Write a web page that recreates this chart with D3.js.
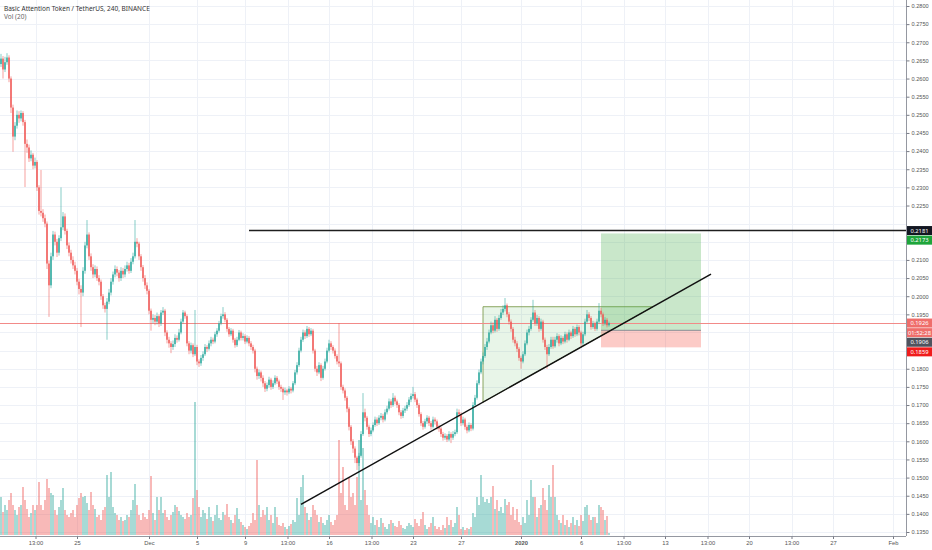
<!DOCTYPE html>
<html>
<head>
<meta charset="utf-8">
<script src="https://cdn.jsdelivr.net/npm/d3@7"></script>
<style>
  html, body { margin: 0; padding: 0; background: #fff; }
  svg { display: block; font-family: "Noto Sans", "DejaVu Sans", sans-serif; }
</style>
</head>
<body>
<svg id="chart" width="932" height="550"></svg>
<script>
// BAT/USDT 4h candles, Nov 18 16:00 -> Jan 8 08:00
const firstTime = "2019-11-18T16:00Z";
const firstOpen = 0.2640;

const closes = [
  .2655,.2625,.2645,.2658,.2600,.2520,.2440,.2470,.2500,.2490,
  .2505,.2480,.2420,.2410,.2380,.2390,.2360,.2370,.2300,.2235,
  .2230,.2215,.2200,.2090,.2030,.2110,.2170,.2150,.2120,.2160,
  .2190,.2220,.2180,.2140,.2120,.2100,.2085,.2070,.2040,.2020,
  .2010,.2070,.2140,.2170,.2110,.2080,.2060,.2075,.2050,.2040,
  .2000,.1975,.1965,.1985,.2010,.2040,.2060,.2075,.2065,.2050,
  .2070,.2060,.2075,.2085,.2070,.2095,.2110,.2150,.2145,.2110,
  .2080,.2050,.2030,.2015,.1960,.1935,.1940,.1930,.1945,.1925,
  .1955,.1960,.1900,.1880,.1870,.1860,.1868,.1885,.1880,.1900,
  .1930,.1955,.1945,.1870,.1850,.1865,.1840,.1860,.1820,.1815,
  .1830,.1840,.1860,.1855,.1870,.1880,.1875,.1895,.1905,.1925,
  .1945,.1950,.1935,.1910,.1895,.1905,.1880,.1865,.1880,.1900,
  .1885,.1890,.1875,.1885,.1870,.1860,.1850,.1800,.1780,.1790,
  .1775,.1760,.1745,.1755,.1770,.1750,.1760,.1775,.1765,.1750,
  .1745,.1735,.1740,.1735,.1745,.1740,.1760,.1790,.1810,.1850,
  .1880,.1900,.1890,.1910,.1895,.1905,.1850,.1800,.1790,.1810,
  .1775,.1800,.1820,.1850,.1870,.1860,.1850,.1835,.1820,.1815,
  .1750,.1740,.1720,.1690,.1640,.1600,.1580,.1555,.1540,.1560,
  .1620,.1680,.1665,.1640,.1620,.1630,.1645,.1660,.1650,.1665,
  .1670,.1660,.1680,.1690,.1710,.1700,.1720,.1710,.1700,.1680,
  .1670,.1685,.1690,.1700,.1715,.1725,.1730,.1715,.1700,.1675,
  .1650,.1640,.1655,.1665,.1650,.1640,.1660,.1655,.1640,.1635,
  .1620,.1610,.1615,.1605,.1620,.1610,.1620,.1625,.1680,.1675,
  .1650,.1660,.1640,.1630,.1645,.1635,.1700,.1720,.1760,.1790,
  .1820,.1835,.1860,.1875,.1900,.1920,.1905,.1935,.1910,.1940,
  .1955,.1965,.1975,.1950,.1930,.1910,.1880,.1870,.1855,.1830,
  .1820,.1840,.1870,.1900,.1910,.1935,.1955,.1925,.1940,.1910,
  .1930,.1880,.1860,.1840,.1860,.1880,.1862,.1880,.1890,.1870,
  .1885,.1875,.1895,.1880,.1900,.1890,.1910,.1895,.1915,.1900,
  .1870,.1895,.1930,.1950,.1940,.1915,.1925,.1910,.1930,.1960,
  .1950,.1925,.1935,.1920,.1926
];

const highs = [
  .2668,.2662,.2660,.2670,.2664,.2606,.2528,.2480,.2512,.2510,
  .2512,.2510,.2486,.2432,.2418,.2402,.2395,.2382,.2375,.2306,
  .2348,.2240,.2225,.2206,.2098,.2120,.2180,.2178,.2158,.2168,
  .2300,.2232,.2228,.2186,.2148,.2128,.2110,.2095,.2078,.2048,
  .2030,.2080,.2150,.2210,.2176,.2118,.2088,.2085,.2082,.2058,
  .2046,.2006,.1982,.1995,.2020,.2050,.2068,.2085,.2082,.2072,
  .2080,.2078,.2085,.2095,.2092,.2105,.2120,.2210,.2160,.2150,
  .2116,.2086,.2058,.2038,.2020,.1966,.1950,.1948,.1955,.1950,
  .1962,.1970,.1965,.1906,.1888,.1876,.1878,.1895,.1892,.1910,
  .1938,.1962,.1960,.1950,.1876,.1872,.1870,.1962,.1866,.1826,
  .1838,.1848,.1868,.1865,.1878,.1888,.1886,.1902,.1912,.1932,
  .1952,.1970,.1956,.1940,.1915,.1912,.1910,.1885,.1888,.1907,
  .1905,.1898,.1895,.1892,.1890,.1876,.1866,.1855,.1806,.1798,
  .1795,.1782,.1766,.1762,.1778,.1775,.1768,.1782,.1780,.1770,
  .1756,.1750,.1748,.1745,.1752,.1750,.1766,.1797,.1818,.1858,
  .1888,.1908,.1906,.1918,.1915,.1912,.1910,.1855,.1808,.1818,
  .1815,.1808,.1828,.1858,.1880,.1876,.1865,.1856,.1840,.1926,
  .1820,.1756,.1746,.1725,.1695,.1645,.1606,.1586,.1560,.1568,
  .1628,.1733,.1690,.1670,.1646,.1638,.1652,.1668,.1666,.1672,
  .1678,.1676,.1688,.1698,.1718,.1716,.1733,.1726,.1715,.1705,
  .1686,.1692,.1698,.1708,.1722,.1732,.1750,.1736,.1720,.1705,
  .1680,.1656,.1662,.1672,.1670,.1656,.1668,.1666,.1660,.1646,
  .1640,.1626,.1622,.1620,.1628,.1625,.1628,.1632,.1690,.1688,
  .1680,.1668,.1665,.1646,.1652,.1650,.1708,.1728,.1768,.1798,
  .1828,.1845,.1868,.1885,.1908,.1930,.1928,.1945,.1940,.1948,
  .1965,.1975,.1995,.1980,.1956,.1936,.1915,.1888,.1876,.1860,
  .1836,.1848,.1878,.1908,.1918,.1942,.1990,.1962,.1948,.1945,
  .1938,.1935,.1886,.1866,.1868,.1888,.1888,.1888,.1898,.1895,
  .1892,.1890,.1902,.1900,.1908,.1905,.1918,.1915,.1922,.1920,
  .1905,.1902,.1938,.1962,.1956,.1945,.1932,.1930,.1938,.1981,
  .1968,.1955,.1942,.1940,.1930
];

const lows = [
  .2632,.2600,.2618,.2638,.2590,.2505,.2398,.2430,.2462,.2478,
  .2482,.2470,.2301,.2395,.2370,.2372,.2350,.2352,.2290,.2225,
  .2220,.2205,.2190,.2075,.1943,.2022,.2100,.2140,.2108,.2112,
  .2152,.2182,.2170,.2130,.2110,.2090,.2075,.2060,.2030,.2005,
  .1915,.2000,.2062,.2132,.2100,.2070,.2050,.2052,.2042,.2030,
  .1990,.1965,.1955,.1880,.1978,.2002,.2032,.2052,.2055,.2040,
  .2042,.2050,.2052,.2068,.2062,.2064,.2088,.2104,.2135,.2100,
  .2070,.2040,.2020,.2005,.1950,.1905,.1925,.1920,.1922,.1915,
  .1918,.1948,.1890,.1870,.1858,.1843,.1852,.1860,.1872,.1875,
  .1895,.1925,.1938,.1862,.1840,.1842,.1832,.1835,.1810,.1805,
  .1808,.1822,.1835,.1846,.1850,.1862,.1868,.1870,.1888,.1900,
  .1920,.1938,.1928,.1902,.1888,.1890,.1872,.1858,.1860,.1876,
  .1878,.1878,.1868,.1870,.1862,.1852,.1842,.1790,.1770,.1772,
  .1765,.1750,.1736,.1738,.1748,.1742,.1744,.1755,.1758,.1742,
  .1736,.1714,.1728,.1726,.1730,.1732,.1735,.1755,.1784,.1805,
  .1845,.1874,.1882,.1885,.1888,.1890,.1842,.1792,.1780,.1785,
  .1766,.1770,.1795,.1815,.1845,.1852,.1842,.1828,.1812,.1805,
  .1742,.1732,.1712,.1680,.1630,.1590,.1568,.1540,.1521,.1532,
  .1555,.1615,.1655,.1632,.1612,.1614,.1625,.1640,.1642,.1645,
  .1658,.1652,.1655,.1674,.1685,.1692,.1695,.1702,.1692,.1672,
  .1662,.1664,.1678,.1684,.1695,.1708,.1718,.1708,.1692,.1668,
  .1642,.1632,.1635,.1648,.1642,.1632,.1635,.1646,.1632,.1626,
  .1612,.1602,.1604,.1598,.1600,.1595,.1604,.1614,.1620,.1666,
  .1642,.1644,.1632,.1622,.1625,.1628,.1630,.1694,.1715,.1755,
  .1785,.1812,.1830,.1852,.1870,.1895,.1898,.1900,.1902,.1905,
  .1935,.1948,.1958,.1942,.1922,.1902,.1872,.1862,.1846,.1822,
  .1800,.1815,.1835,.1865,.1892,.1905,.1930,.1918,.1918,.1902,
  .1905,.1872,.1852,.1800,.1835,.1855,.1855,.1858,.1872,.1862,
  .1865,.1868,.1870,.1872,.1876,.1882,.1885,.1888,.1890,.1892,
  .1862,.1865,.1890,.1925,.1932,.1908,.1910,.1904,.1905,.1925,
  .1942,.1918,.1920,.1914,.1916
];

// volume in thousands of BAT
const volumes = [
  380,230,300,250,350,420,300,250,200,280,
  300,480,350,260,180,220,300,250,300,530,
  300,250,350,560,470,420,400,250,200,280,
  350,470,250,200,180,220,250,180,300,370,
  420,380,390,320,250,430,300,260,180,200,
  150,250,280,600,380,630,280,220,200,150,
  180,140,150,200,180,250,350,510,300,200,
  150,220,180,160,250,590,220,150,380,250,
  380,220,250,180,150,200,230,300,280,240,
  200,180,160,220,180,200,370,1330,450,280,
  180,250,220,160,280,180,140,200,300,170,
  150,230,200,310,180,150,120,200,270,160,
  130,100,80,60,90,120,220,150,750,300,
  180,250,200,280,150,200,120,280,180,100,
  90,120,80,60,90,110,150,130,370,200,
  480,600,280,220,150,180,300,250,200,130,
  180,120,100,150,200,130,100,150,200,950,
  420,680,300,250,580,380,420,300,580,950,
  350,870,450,300,200,120,180,100,150,80,
  170,120,80,60,110,150,120,90,80,140,
  100,70,60,90,120,100,80,160,120,90,
  160,230,100,60,80,120,180,90,60,80,
  50,100,70,180,100,150,80,120,280,200,
  60,80,50,70,60,80,220,180,380,300,
  600,380,330,360,320,380,490,260,350,240,
  280,220,360,300,330,200,280,150,260,130,
  100,180,120,350,200,550,380,380,180,270,
  300,470,350,250,500,380,700,380,200,150,
  120,200,100,150,80,120,180,100,150,90,
  200,140,280,300,200,150,180,180,120,300,
  280,250,150,190,20
];

const timeTicks = [
  "2019-11-21T13:00Z","2019-11-25T00:00Z","2019-12-01T00:00Z","2019-12-05T00:00Z",
  "2019-12-09T00:00Z","2019-12-12T13:00Z","2019-12-16T00:00Z","2019-12-19T13:00Z",
  "2019-12-23T00:00Z","2019-12-27T00:00Z","2020-01-01T00:00Z","2020-01-06T00:00Z",
  "2020-01-09T13:00Z","2020-01-13T00:00Z","2020-01-16T13:00Z","2020-01-20T00:00Z",
  "2020-01-23T13:00Z","2020-01-27T00:00Z","2020-02-01T00:00Z"
];
const timeLabels = ["13:00","25","Dec","5","9","13:00","16","13:00","23","27",
  "2020","6","13:00","13","13:00","20","13:00","27","Feb"];

// drawings
const resistanceStart = "2019-12-09T08:00Z";
const resistancePrice = 0.2181;
const trendStart = ["2019-12-13T16:00Z", 0.1426];
const trendEnd = ["2020-01-16T20:00Z", 0.2061];
const triangleLeft = "2019-12-28T20:00Z";
const triangleTop = 0.1971;
const positionStart = "2020-01-07T16:00Z";
const positionEnd = "2020-01-16T00:00Z";
const entryPrice = 0.1906;
const targetPrice = 0.2173;
const stopPrice = 0.1859;
const lastPrice = 0.1926;
const countdown = "01:52:28";

const upColor = "#26a69a", downColor = "#ef5350";
const W = 932, H = 550, plotRight = 906, axisY = 536;

const svg = d3.select("#chart");

let x = d3.scaleUtc()
  .domain([new Date("2019-12-01T00:00Z"), new Date("2020-02-01T00:00Z")])
  .range([149, 893]);
let y = d3.scaleLinear().domain([0.135, 0.28]).range([532, 6]);
let vScale = d3.scaleLinear().domain([0, 1400]).range([535, 395]);

const t0 = new Date(firstTime).getTime();
let candles = closes.map((c, i) => ({
  t: new Date(t0 + i * 4 * 3600 * 1000),
  o: i === 0 ? firstOpen : closes[i - 1],
  h: highs[i], l: lows[i], c: c, v: volumes[i]
}));

// grid
let priceTicks = d3.range(0.135, 0.28001, 0.005);
let grid = svg.append("g").attr("stroke", "#eef1f7").attr("stroke-width", 1);
grid.selectAll("line.h").data(priceTicks).enter().append("line")
  .attr("x1", 0).attr("x2", plotRight)
  .attr("y1", d => Math.round(y(d)) + 0.5).attr("y2", d => Math.round(y(d)) + 0.5);
grid.selectAll("line.v").data(timeTicks).enter().append("line")
  .attr("y1", 0).attr("y2", axisY)
  .attr("x1", d => Math.round(x(new Date(d))) + 0.5).attr("x2", d => Math.round(x(new Date(d))) + 0.5);

svg.append("clipPath").attr("id", "plot").append("rect")
  .attr("x", 0).attr("y", 0).attr("width", plotRight).attr("height", axisY);
let plot = svg.append("g").attr("clip-path", "url(#plot)");

// volume
plot.append("g").selectAll("rect").data(candles).enter().append("rect")
  .attr("x", d => x(d.t) - 0.8)
  .attr("width", 1.6)
  .attr("y", d => vScale(d.v))
  .attr("height", d => vScale(0) - vScale(d.v))
  .attr("fill", d => d.c >= d.o ? upColor : downColor)
  .attr("fill-opacity", 0.5);

// triangle drawing
let tx1 = x(new Date(trendStart[0])), ty1 = y(trendStart[1]);
let tx2 = x(new Date(trendEnd[0])), ty2 = y(trendEnd[1]);
let slope = (ty2 - ty1) / (tx2 - tx1);
let lx = x(new Date(triangleLeft)), topY = y(triangleTop);
let meetX = tx1 + (topY - ty1) / slope;
plot.append("path")
  .attr("d", `M${lx},${topY}L${meetX},${topY}L${lx},${ty1 + (lx - tx1) * slope}Z`)
  .attr("fill", "rgba(76,175,80,0.13)")
  .attr("stroke", "rgba(120,150,70,0.85)")
  .attr("stroke-width", 1);

// long position tool
let px1 = x(new Date(positionStart)), px2 = x(new Date(positionEnd));
plot.append("rect").attr("x", px1).attr("width", px2 - px1)
  .attr("y", y(targetPrice)).attr("height", y(entryPrice) - y(targetPrice))
  .attr("fill", "rgba(76,175,80,0.3)");
plot.append("rect").attr("x", px1).attr("width", px2 - px1)
  .attr("y", y(entryPrice)).attr("height", y(stopPrice) - y(entryPrice))
  .attr("fill", "rgba(244,67,54,0.28)");
plot.append("line").attr("x1", px1).attr("x2", px2)
  .attr("y1", y(entryPrice)).attr("y2", y(entryPrice))
  .attr("stroke", "#8a8c94").attr("stroke-width", 1);

// current price line
plot.append("line").attr("x1", 0).attr("x2", plotRight)
  .attr("y1", Math.round(y(lastPrice)) + 0.5).attr("y2", Math.round(y(lastPrice)) + 0.5)
  .attr("stroke", "#f28a88").attr("stroke-width", 1);

// candles
let cg = plot.append("g");
cg.selectAll("line").data(candles).enter().append("line")
  .attr("x1", d => x(d.t)).attr("x2", d => x(d.t))
  .attr("y1", d => y(d.h)).attr("y2", d => y(d.l))
  .attr("stroke", d => d.c >= d.o ? upColor : downColor)
  .attr("stroke-opacity", 0.55)
  .attr("stroke-width", 1);
cg.selectAll("rect").data(candles).enter().append("rect")
  .attr("x", d => x(d.t) - 0.7)
  .attr("width", 1.4)
  .attr("y", d => y(Math.max(d.o, d.c)))
  .attr("height", d => Math.max(0.8, Math.abs(y(d.o) - y(d.c))))
  .attr("fill", d => d.c >= d.o ? upColor : downColor);

// resistance + trend line
plot.append("line").attr("x1", x(new Date(resistanceStart))).attr("x2", plotRight)
  .attr("y1", y(resistancePrice)).attr("y2", y(resistancePrice))
  .attr("stroke", "#1e1e1e").attr("stroke-width", 1.6);
plot.append("line").attr("x1", tx1).attr("y1", ty1).attr("x2", tx2).attr("y2", ty2)
  .attr("stroke", "#111").attr("stroke-width", 1.5);

// price labels on the scale (stacked so they don't collide)
let priceLabels = [
  { v: resistancePrice, text: d3.format(".4f")(resistancePrice), bg: "#131722" },
  { v: targetPrice, text: d3.format(".4f")(targetPrice), bg: "#1ea53b" },
  { v: lastPrice, text: d3.format(".4f")(lastPrice), bg: "#ef6e6b" },
  { v: lastPrice - 0.0001, text: countdown, bg: "#ef6e6b" },
  { v: entryPrice, text: d3.format(".4f")(entryPrice), bg: "#50535e" },
  { v: stopPrice, text: d3.format(".4f")(stopPrice), bg: "#f01c1c" }
];
let lastY = -100;
priceLabels.forEach(d => {
  d.cy = Math.max(y(d.v), lastY + 9.6);
  lastY = d.cy;
});

// axes
let yAxis = d3.axisRight(y).tickValues(priceTicks).tickFormat(d3.format(".4f"))
  .tickSize(3).tickPadding(2);
let ya = svg.append("g").attr("transform", `translate(${plotRight + 0.5},0)`).call(yAxis);
ya.select(".domain").attr("stroke", "#9598a1").attr("d", `M0,0V${axisY}`);
ya.selectAll(".tick line").attr("stroke", "#787b86");
ya.selectAll(".tick text").attr("fill", "#555").style("font-size", "5.6px");
// tick labels hidden under a price label, as the trading view does
ya.selectAll(".tick")
  .filter(d => priceLabels.some(p => Math.abs(p.cy - y(d)) < 7.5))
  .remove();

let xAxis = d3.axisBottom(x).tickValues(timeTicks.map(d => new Date(d)))
  .tickFormat((d, i) => timeLabels[i]).tickSize(2.5).tickPadding(2);
let xa = svg.append("g").attr("transform", `translate(0,${axisY + 0.5})`).call(xAxis);
xa.select(".domain").attr("stroke", "#9598a1").attr("d", `M0,0H${plotRight}`);
xa.selectAll(".tick line").attr("stroke", "#787b86");
xa.selectAll(".tick text").attr("fill", "#555").style("font-size", "5.8px")
  .style("font-weight", (d, i) => timeLabels[i] === "2020" ? "bold" : "normal");

priceLabels.forEach(d => {
  let g = svg.append("g").attr("transform", `translate(${plotRight + 1},${d.cy})`);
  g.append("rect").attr("x", 0).attr("y", -4.5).attr("width", W - plotRight).attr("height", 9)
    .attr("fill", d.bg);
  g.append("text").attr("x", 12.5).attr("y", 2).attr("text-anchor", "middle")
    .attr("fill", "#fff").style("font-size", "5.8px").text(d.text);
});

// legend
svg.append("text").attr("x", 4).attr("y", 10.5).attr("fill", "#333")
  .style("font-size", "6.5px").text("Basic Attention Token / TetherUS, 240, BINANCE");
svg.append("text").attr("x", 4).attr("y", 19).attr("fill", "#666")
  .style("font-size", "6.5px").text("Vol (20)");
</script>
</body>
</html>
